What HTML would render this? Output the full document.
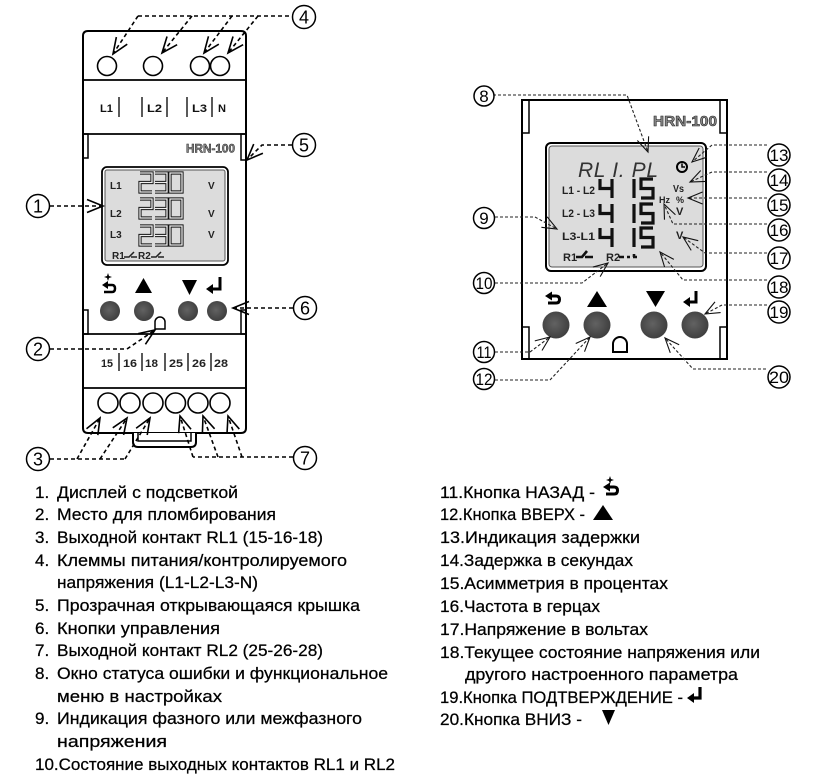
<!DOCTYPE html>
<html><head><meta charset="utf-8"><style>body{margin:0;background:#fff}svg{display:block}</style></head>
<body>
<svg width="816" height="777" viewBox="0 0 816 777" xmlns="http://www.w3.org/2000/svg" font-family="'Liberation Sans', sans-serif">
<defs>
<marker id="aL" markerUnits="userSpaceOnUse" markerWidth="20" markerHeight="16" viewBox="0 0 20 16" refX="17" refY="7.5" orient="auto"><path d="M1,1 L17,7.5 L1,14" fill="none" stroke="#000" stroke-width="1.6"/></marker>
<marker id="aR" markerUnits="userSpaceOnUse" markerWidth="18" markerHeight="15" viewBox="0 0 18 15" refX="15.5" refY="7" orient="auto"><path d="M1,1 L15.5,7 L1,13" fill="none" stroke="#111" stroke-width="1.1"/></marker>
<radialGradient id="btn" cx="0.45" cy="0.45" r="0.6"><stop offset="0" stop-color="#626262"/><stop offset="1" stop-color="#3c3c3c"/></radialGradient>
</defs>

<!-- ================= LEFT DEVICE ================= -->
<path d="M83,36 Q83,31 88,31 H241 Q246,31 246,36 V428 Q246,433 241,433 H88 Q83,433 83,428 Z" fill="#fff" stroke="#000" stroke-width="2"/>
<path d="M133,433 V442 Q133,447 138,447 H191 Q196,447 196,442 V433" fill="#fff" stroke="#000" stroke-width="2"/>
<path d="M138,433 V441 H191 V433" fill="none" stroke="#000" stroke-width="1.5"/>
<g stroke="#000" stroke-width="1.8">
<line x1="83" y1="80" x2="246" y2="80"/>
<line x1="83" y1="134" x2="246" y2="134"/>
<line x1="83" y1="334" x2="246" y2="334"/>
<line x1="83" y1="388" x2="246" y2="388"/>
</g>
<g fill="none" stroke="#000" stroke-width="1.5">
<rect x="83" y="134" width="5" height="24"/>
<rect x="241" y="134" width="5" height="26"/>
<rect x="83" y="310" width="5" height="24"/>
<rect x="241" y="310" width="5" height="24"/>
</g>
<g fill="#fff" stroke="#000" stroke-width="1.6">
<circle cx="107" cy="66" r="9.5"/><circle cx="153" cy="66" r="9.5"/><circle cx="200" cy="66" r="9.5"/><circle cx="220" cy="66" r="9.5"/>
</g>
<g font-weight="bold" font-size="11" fill="#111">
<text x="100" y="112" textLength="13" lengthAdjust="spacingAndGlyphs">L1</text>
<text x="147" y="112" textLength="15" lengthAdjust="spacingAndGlyphs">L2</text>
<text x="192" y="112" textLength="15" lengthAdjust="spacingAndGlyphs">L3</text>
<text x="218" y="112" textLength="8" lengthAdjust="spacingAndGlyphs">N</text>
</g>
<g stroke="#000" stroke-width="1.3">
<line x1="119" y1="97" x2="119" y2="117"/><line x1="142" y1="97" x2="142" y2="117"/><line x1="167" y1="97" x2="167" y2="117"/><line x1="187" y1="97" x2="187" y2="117"/><line x1="212" y1="97" x2="212" y2="117"/>
</g>
<text x="186" y="152.5" font-size="12" font-weight="bold" fill="#888" stroke="#222" stroke-width="0.5" textLength="49" lengthAdjust="spacingAndGlyphs">HRN-100</text>
<rect x="102" y="167" width="126" height="98" rx="5" fill="#fff" stroke="#000" stroke-width="1.8"/>
<rect x="105" y="170" width="120" height="91" rx="2" fill="#dcdcdc" stroke="#555" stroke-width="1"/>
<g font-weight="bold" font-size="10" fill="#222">
<text x="110" y="189">L1</text><text x="110" y="217">L2</text><text x="110" y="238">L3</text>
<text x="208" y="189">V</text><text x="208" y="217">V</text><text x="208" y="238">V</text>
<text x="112" y="259">R1</text><text x="138" y="259">R2</text>
</g>
<path d="M124,257 H129 L134,252 M131,257 H137 M151,257 H156 L161,252 M158,257 H164" stroke="#222" stroke-width="1.5" fill="none"/>
<g fill="none" stroke-linejoin="miter">
<g transform="translate(0,173)"><path d="M140,0 H152 V9.5 H140 V19 H152 M155,0 H167 V19 H155 M155,9.5 H167 M170,0 H182 V19 H170 Z" stroke="#111" stroke-width="3.2"/><path d="M140,0 H152 V9.5 H140 V19 H152 M155,0 H167 V19 H155 M155,9.5 H167 M170,0 H182 V19 H170 Z" stroke="#eeeeee" stroke-width="1.3"/></g>
<g transform="translate(0,199)"><path d="M140,0 H152 V9.5 H140 V19 H152 M155,0 H167 V19 H155 M155,9.5 H167 M170,0 H182 V19 H170 Z" stroke="#111" stroke-width="3.2"/><path d="M140,0 H152 V9.5 H140 V19 H152 M155,0 H167 V19 H155 M155,9.5 H167 M170,0 H182 V19 H170 Z" stroke="#eeeeee" stroke-width="1.3"/></g>
<g transform="translate(0,226)"><path d="M140,0 H152 V9.5 H140 V19 H152 M155,0 H167 V19 H155 M155,9.5 H167 M170,0 H182 V19 H170 Z" stroke="#111" stroke-width="3.2"/><path d="M140,0 H152 V9.5 H140 V19 H152 M155,0 H167 V19 H155 M155,9.5 H167 M170,0 H182 V19 H170 Z" stroke="#eeeeee" stroke-width="1.3"/></g>
</g>
<polygon points="102,285 108,281 108,289" fill="#000"/>
<path d="M107,285 H112 Q115,285 115,288.5 Q115,292 112,292 H104" fill="none" stroke="#000" stroke-width="2.5"/>
<path d="M108,273 L109,276 L112,277 L109,278 L108,281 L107,278 L104,277 L107,276 Z" fill="#000"/>
<polygon points="135,293 152,293 143.5,278" fill="#000"/>
<polygon points="182,280 197,280 189.5,295" fill="#000"/>
<path d="M220,277 V289 H211" fill="none" stroke="#000" stroke-width="3"/>
<polygon points="206,289 213,284 213,294" fill="#000"/>
<g fill="url(#btn)"><circle cx="110" cy="311" r="10"/><circle cx="144" cy="311" r="10"/><circle cx="188" cy="311" r="10"/><circle cx="217" cy="311" r="10"/></g>
<path d="M155,329 V322 A5,5 0 0 1 165,322 V329 Z" fill="#fff" stroke="#000" stroke-width="1.5"/>
<g font-weight="bold" font-size="11" fill="#222">
<text x="101" y="367" textLength="12" lengthAdjust="spacingAndGlyphs">15</text>
<text x="123" y="367" textLength="14" lengthAdjust="spacingAndGlyphs">16</text>
<text x="145" y="367" textLength="13" lengthAdjust="spacingAndGlyphs">18</text>
<text x="169" y="367" textLength="14" lengthAdjust="spacingAndGlyphs">25</text>
<text x="192" y="367" textLength="14" lengthAdjust="spacingAndGlyphs">26</text>
<text x="214" y="367" textLength="14" lengthAdjust="spacingAndGlyphs">28</text>
</g>
<g stroke="#000" stroke-width="1.3">
<line x1="119" y1="353" x2="119" y2="371"/><line x1="142" y1="353" x2="142" y2="371"/><line x1="165" y1="353" x2="165" y2="371"/><line x1="188" y1="353" x2="188" y2="371"/><line x1="211" y1="353" x2="211" y2="371"/>
</g>
<g fill="#fff" stroke="#000" stroke-width="1.6">
<circle cx="108" cy="403" r="10"/><circle cx="130" cy="403" r="10"/><circle cx="153" cy="403" r="10"/><circle cx="175.5" cy="403" r="10"/><circle cx="198" cy="403" r="10"/><circle cx="220" cy="403" r="10"/>
</g>

<g fill="none" stroke="#000" stroke-width="1.6" stroke-dasharray="4 3">
<line x1="50" y1="206" x2="103" y2="206" marker-end="url(#aL)"/>
<polyline points="50,349 127,349 155,330" marker-end="url(#aL)"/>
<line x1="50" y1="459" x2="125" y2="459"/>
<line x1="77" y1="459" x2="100" y2="418" marker-end="url(#aL)"/>
<line x1="100" y1="459" x2="127" y2="418" marker-end="url(#aL)"/>
<line x1="125" y1="459" x2="150" y2="418" marker-end="url(#aL)"/>
<line x1="138" y1="16" x2="292" y2="16"/>
<line x1="138" y1="16" x2="113" y2="54" marker-end="url(#aL)"/>
<line x1="192" y1="16" x2="162" y2="53" marker-end="url(#aL)"/>
<line x1="232" y1="16" x2="204" y2="53" marker-end="url(#aL)"/>
<line x1="258" y1="16" x2="228" y2="53" marker-end="url(#aL)"/>
<polyline points="292,145 262,145 247,160" marker-end="url(#aL)"/>
<line x1="293" y1="308" x2="233" y2="308" marker-end="url(#aL)"/>
<line x1="293" y1="457" x2="193" y2="457"/>
<line x1="193" y1="457" x2="180" y2="416" marker-end="url(#aL)"/>
<line x1="218" y1="457" x2="203" y2="416" marker-end="url(#aL)"/>
<line x1="242" y1="457" x2="228" y2="416" marker-end="url(#aL)"/>
</g>
<g fill="#fff" stroke="#000" stroke-width="1.5">
<circle cx="38" cy="206" r="11.5"/><circle cx="38" cy="349" r="11.5"/><circle cx="38" cy="459" r="11.5"/>
<circle cx="304" cy="17" r="11.5"/><circle cx="304" cy="145" r="11.5"/><circle cx="305" cy="308" r="11.5"/><circle cx="305" cy="458" r="11.5"/>
</g>
<g font-size="18" text-anchor="middle" fill="#000">
<text x="38" y="212.5">1</text><text x="38" y="355.5">2</text><text x="38" y="465.5">3</text>
<text x="304" y="23.5">4</text><text x="304" y="151.5">5</text><text x="305" y="314.5">6</text><text x="305" y="464.5">7</text>
</g>

<!-- ================= RIGHT DEVICE ================= -->
<rect x="522" y="100" width="205" height="259" fill="#fff" stroke="#000" stroke-width="2"/>
<g fill="none" stroke="#000" stroke-width="1.5">
<rect x="522" y="100" width="7" height="33"/><rect x="720" y="100" width="7" height="33"/>
<rect x="522" y="327" width="7" height="32"/><rect x="720" y="327" width="7" height="32"/>
</g>
<text x="653" y="126" font-size="15" font-weight="bold" fill="#888" stroke="#222" stroke-width="0.6" textLength="64" lengthAdjust="spacingAndGlyphs">HRN-100</text>
<rect x="546" y="143" width="160" height="128" rx="5" fill="#fff" stroke="#000" stroke-width="2"/>
<rect x="549" y="146" width="154" height="121" rx="3" fill="#dcdcdc" stroke="#555" stroke-width="1"/>
<text x="578" y="177" font-size="21" font-style="italic" fill="#333" textLength="80" lengthAdjust="spacing">RL I. PL</text>
<circle cx="682" cy="167" r="5" fill="none" stroke="#000" stroke-width="2"/>
<path d="M682,163.5 V167 H685" fill="none" stroke="#000" stroke-width="1.5"/>
<g font-weight="bold" fill="#222">
<text x="562" y="194" font-size="11" textLength="33" lengthAdjust="spacingAndGlyphs">L1 - L2</text>
<text x="562" y="217" font-size="11" textLength="33" lengthAdjust="spacingAndGlyphs">L2 - L3</text>
<text x="562" y="240" font-size="11" textLength="33" lengthAdjust="spacingAndGlyphs">L3-L1</text>
<text x="673" y="192" font-size="10" textLength="11" lengthAdjust="spacingAndGlyphs">Vs</text>
<text x="659" y="203" font-size="9">Hz</text>
<text x="676" y="203" font-size="9">%</text>
<text x="676" y="215" font-size="11">V</text>
<text x="676" y="239" font-size="11">V</text>
<text x="563" y="261" font-size="11">R1</text>
<text x="606" y="261" font-size="11">R2</text>
</g>
<path d="M576,257 H582 L587,251 M585,257 H593 M619,257 H624 M627,257 H630 M633,257 H637 M634,257 V254" fill="none" stroke="#111" stroke-width="2.6"/>
<g fill="none" stroke="#111" stroke-width="3.2">
<g transform="translate(0,179)"><path d="M600,0 V9.5 H612 M612,0 V19 M634,0 V19 M653,0 H641 V9.5 H653 V19 H641"/></g>
<g transform="translate(0,204)"><path d="M600,0 V9.5 H612 M612,0 V19 M634,0 V19 M653,0 H641 V9.5 H653 V19 H641"/></g>
<g transform="translate(0,228)"><path d="M600,0 V9.5 H612 M612,0 V19 M634,0 V19 M653,0 H641 V9.5 H653 V19 H641"/></g>
</g>
<polygon points="545,296 552,291.5 552,300.5" fill="#000"/>
<path d="M550,296 H556 Q559.5,296 559.5,299.5 Q559.5,303 556,303 H548" fill="none" stroke="#000" stroke-width="3"/>
<polygon points="587,307 607,307 597,291" fill="#000"/>
<polygon points="646,291 665,291 655.5,307" fill="#000"/>
<path d="M696,291 V302 H688" fill="none" stroke="#000" stroke-width="3"/>
<polygon points="683,302 690,297 690,307" fill="#000"/>
<g fill="url(#btn)"><circle cx="556" cy="325" r="13.5"/><circle cx="597" cy="325" r="13.5"/><circle cx="654" cy="325" r="13.5"/><circle cx="695" cy="325" r="13.5"/></g>
<path d="M613,352 V344 A7,7 0 0 1 627,344 V352 Z" fill="#fff" stroke="#000" stroke-width="2"/>

<g fill="none" stroke="#222" stroke-width="1.1" stroke-dasharray="3 2">
<polyline points="493,95 627,95 648,152" marker-end="url(#aR)"/>
<polyline points="495,217 535,217 557,229" marker-end="url(#aR)"/>
<polyline points="495,283 582,283 608,263" marker-end="url(#aR)"/>
<polyline points="495,352 530,352 550,337" marker-end="url(#aR)"/>
<polyline points="495,380 550,380 590,337" marker-end="url(#aR)"/>
<polyline points="767,145 712,145 692,162" marker-end="url(#aR)"/>
<polyline points="767,172 712,172 690,182" marker-end="url(#aR)"/>
<line x1="767" y1="198" x2="688" y2="198" marker-end="url(#aR)"/>
<polyline points="767,224 673,224 664,204" marker-end="url(#aR)"/>
<polyline points="767,253 705,253 683,237" marker-end="url(#aR)"/>
<polyline points="767,280 683,280 660,252" marker-end="url(#aR)"/>
<polyline points="767,305 722,305 705,314" marker-end="url(#aR)"/>
<polyline points="766,369 693,369 665,338" marker-end="url(#aR)"/>
</g>
<g fill="#fff" stroke="#000" stroke-width="1.5">
<circle cx="484" cy="96" r="10"/><circle cx="484" cy="218" r="10.5"/><circle cx="484" cy="283" r="10.5"/><circle cx="484" cy="352" r="10.5"/><circle cx="484" cy="379" r="10.5"/>
<circle cx="779" cy="155" r="11"/><circle cx="779" cy="180" r="11"/><circle cx="779" cy="205" r="11"/><circle cx="779" cy="230" r="11"/><circle cx="779" cy="258" r="11"/><circle cx="779" cy="287" r="11"/><circle cx="779" cy="312" r="11"/><circle cx="779" cy="377" r="11"/>
</g>
<g font-size="17" text-anchor="middle" fill="#000">
<text x="484" y="102">8</text><text x="484" y="224">9</text>
<text x="484" y="289" textLength="17" lengthAdjust="spacingAndGlyphs">10</text>
<text x="484" y="358" textLength="15" lengthAdjust="spacingAndGlyphs">11</text>
<text x="484" y="385" textLength="17" lengthAdjust="spacingAndGlyphs">12</text>
<text x="779" y="161" textLength="19" lengthAdjust="spacingAndGlyphs">13</text>
<text x="779" y="186" textLength="19" lengthAdjust="spacingAndGlyphs">14</text>
<text x="779" y="211" textLength="19" lengthAdjust="spacingAndGlyphs">15</text>
<text x="779" y="236" textLength="19" lengthAdjust="spacingAndGlyphs">16</text>
<text x="779" y="264" textLength="19" lengthAdjust="spacingAndGlyphs">17</text>
<text x="779" y="293" textLength="19" lengthAdjust="spacingAndGlyphs">18</text>
<text x="779" y="318" textLength="19" lengthAdjust="spacingAndGlyphs">19</text>
<text x="779" y="383" textLength="20" lengthAdjust="spacingAndGlyphs">20</text>
</g>

<!-- ================= LEFT LIST ================= -->
<g font-size="17" fill="#000" stroke="#000" stroke-width="0.25">
<text x="35" y="498">1.</text><text x="57" y="498" textLength="181" lengthAdjust="spacingAndGlyphs">Дисплей с подсветкой</text>
<text x="35" y="520">2.</text><text x="57" y="520" textLength="219" lengthAdjust="spacingAndGlyphs">Место для пломбирования</text>
<text x="35" y="543">3.</text><text x="57" y="543" textLength="266" lengthAdjust="spacingAndGlyphs">Выходной контакт RL1 (15-16-18)</text>
<text x="35" y="566">4.</text><text x="57" y="566" textLength="290" lengthAdjust="spacingAndGlyphs">Клеммы питания/контролируемого</text>
<text x="57" y="588" textLength="201" lengthAdjust="spacingAndGlyphs">напряжения (L1-L2-L3-N)</text>
<text x="35" y="611">5.</text><text x="57" y="611" textLength="303" lengthAdjust="spacingAndGlyphs">Прозрачная открывающаяся крышка</text>
<text x="35" y="634">6.</text><text x="57" y="634" textLength="163" lengthAdjust="spacingAndGlyphs">Кнопки управления</text>
<text x="35" y="656">7.</text><text x="57" y="656" textLength="266" lengthAdjust="spacingAndGlyphs">Выходной контакт RL2 (25-26-28)</text>
<text x="35" y="679">8.</text><text x="57" y="679" textLength="331" lengthAdjust="spacingAndGlyphs">Окно статуса ошибки и функциональное</text>
<text x="57" y="702" textLength="165" lengthAdjust="spacingAndGlyphs">меню в настройках</text>
<text x="35" y="724">9.</text><text x="57" y="724" textLength="305" lengthAdjust="spacingAndGlyphs">Индикация фазного или межфазного</text>
<text x="57" y="747" textLength="110" lengthAdjust="spacingAndGlyphs">напряжения</text>
<text x="35" y="770" textLength="360" lengthAdjust="spacingAndGlyphs">10.Состояние выходных контактов RL1 и RL2</text>
</g>

<!-- ================= RIGHT LIST ================= -->
<g font-size="17" fill="#000" stroke="#000" stroke-width="0.25">
<text x="440" y="498" textLength="155" lengthAdjust="spacingAndGlyphs">11.Кнопка НАЗАД -</text>
<text x="440" y="520" textLength="145" lengthAdjust="spacingAndGlyphs">12.Кнопка ВВЕРХ -</text>
<text x="440" y="543" textLength="200" lengthAdjust="spacingAndGlyphs">13.Индикация задержки</text>
<text x="440" y="566" textLength="193" lengthAdjust="spacingAndGlyphs">14.Задержка в секундах</text>
<text x="440" y="589" textLength="228" lengthAdjust="spacingAndGlyphs">15.Асимметрия в процентах</text>
<text x="440" y="612" textLength="160" lengthAdjust="spacingAndGlyphs">16.Частота в герцах</text>
<text x="440" y="635" textLength="208" lengthAdjust="spacingAndGlyphs">17.Напряжение в вольтах</text>
<text x="440" y="658" textLength="320" lengthAdjust="spacingAndGlyphs">18.Текущее состояние напряжения или</text>
<text x="465" y="680" textLength="273" lengthAdjust="spacingAndGlyphs">другого настроенного параметра</text>
<text x="440" y="703" textLength="243" lengthAdjust="spacingAndGlyphs">19.Кнопка ПОДТВЕРЖДЕНИЕ -</text>
<text x="440" y="725" textLength="142" lengthAdjust="spacingAndGlyphs">20.Кнопка ВНИЗ -</text>
</g>
<polygon points="603,487 610,482.5 610,491.5" fill="#000"/>
<path d="M608,487 H614 Q617.5,487 617.5,490.5 Q617.5,494 614,494 H606" fill="none" stroke="#000" stroke-width="3"/>
<path d="M610,476 L611,479 L614,480 L611,481 L610,484 L609,481 L606,480 L609,479 Z" fill="#000"/>
<polygon points="593,520 613,520 603,505" fill="#000"/>
<path d="M700,687 V698 H693" fill="none" stroke="#000" stroke-width="3.2"/>
<polygon points="687,698 694,693 694,703" fill="#000"/>
<polygon points="602,710 615,710 608.5,725" fill="#000"/>
</svg>
</body></html>
